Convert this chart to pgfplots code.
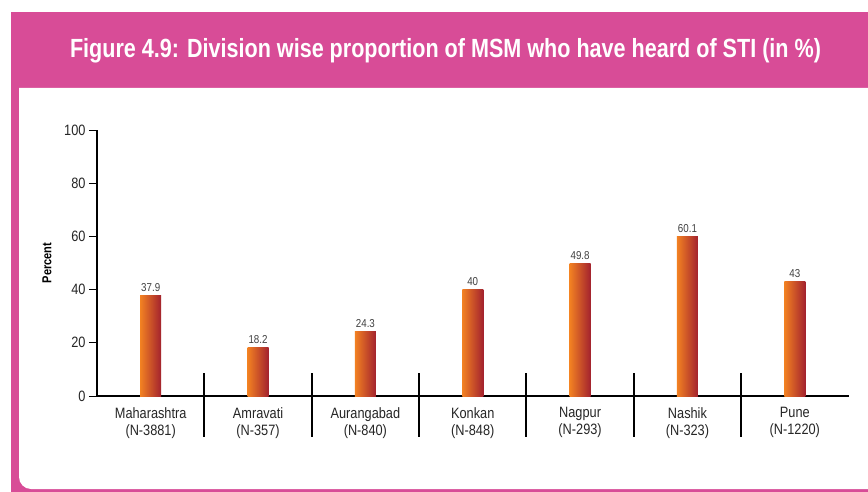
\documentclass[border=0pt]{standalone}
\usepackage{pgfplots}
\pgfplotsset{compat=1.18}
\usepackage{fontspec}
\setmainfont{Liberation Sans}
\newfontfamily\condfont[FakeStretch=0.85]{Liberation Sans}
\newfontfamily\titlefont[FakeStretch=0.82]{Liberation Sans}
\definecolor{pinkframe}{HTML}{D84C97}
\definecolor{barL}{HTML}{F28122}
\definecolor{barM}{HTML}{E46A26}
\definecolor{barR}{HTML}{A3222E}
\begin{document}
\begin{tikzpicture}
\useasboundingbox (0pt,0pt) rectangle (868pt,-492pt);
\fill[pinkframe] (11pt,-12pt) rectangle (900pt,-520pt);
\fill[white] (19pt,-88pt) -- (920pt,-88pt) -- (920pt,-489pt) [rounded corners=12pt] -- (19pt,-489pt) [sharp corners] -- cycle;
\node[text=white, font=\titlefont\bfseries\fontsize{26.3}{30}\selectfont] at (445.5pt,-51pt) {Figure 4.9: Division wise proportion of MSM who have heard of STI (in \%)};
\begin{axis}[
  at={(97pt,-396pt)}, anchor=south west,
  scale only axis, width=751.5pt, height=266pt,
  xmin=-0.5, xmax=6.5, ymin=0, ymax=100,
  /pgf/number format/assume math mode=true,
  axis lines=left,
  axis line style={-},
  x axis line style={line width=2.6pt},
  y axis line style={line width=1.2pt},
  ytick={0,20,40,60,80,100},
  ytick style={black, line width=1pt},
  major tick length=8pt, tick align=outside,
  xtick={0,1,2,3,4,5,6},
  xtick style={draw=none},
  xticklabels={{Maharashtra\\(N-3881)},{Amravati\\(N-357)},{Aurangabad\\(N-840)},{Konkan\\(N-848)},{Nagpur\\(N-293)},{Nashik\\(N-323)},{Pune\\(N-1220)}},
  xticklabel style={font=\condfont\fontsize{15}{17}\selectfont, align=center, text=black!85},
  yticklabel style={font=\condfont\fontsize{15}{17}\selectfont, text=black!85},
  every axis y label/.style={at={(axis description cs:-0.0665,0.5)}, rotate=90, anchor=center},
  ylabel={Percent},
  ylabel style={font=\condfont\bfseries\fontsize{13}{15}\selectfont},
  ybar, bar width=21pt, bar shift=0pt,
  nodes near coords,
  nodes near coords style={font=\condfont\fontsize{11.5}{13}\selectfont, text=black!75},
  clip=false,
  every axis plot/.append style={draw=none, left color=barL, middle color=barM, right color=barR},
]
\addplot coordinates {(0,37.9)};
\addplot coordinates {(1,18.2)};
\addplot coordinates {(2,24.3)};
\addplot coordinates {(3,40)};
\addplot coordinates {(4,49.8)};
\addplot coordinates {(5,60.1)};
\addplot coordinates {(6,43)};
\pgfplotsinvokeforeach{0.5,1.5,2.5,3.5,4.5,5.5}{
  \draw[line width=2pt] (axis cs:#1,0) ++(0pt,23pt) -- ++(0pt,-64pt);
}
\end{axis}
\end{tikzpicture}
\end{document}
